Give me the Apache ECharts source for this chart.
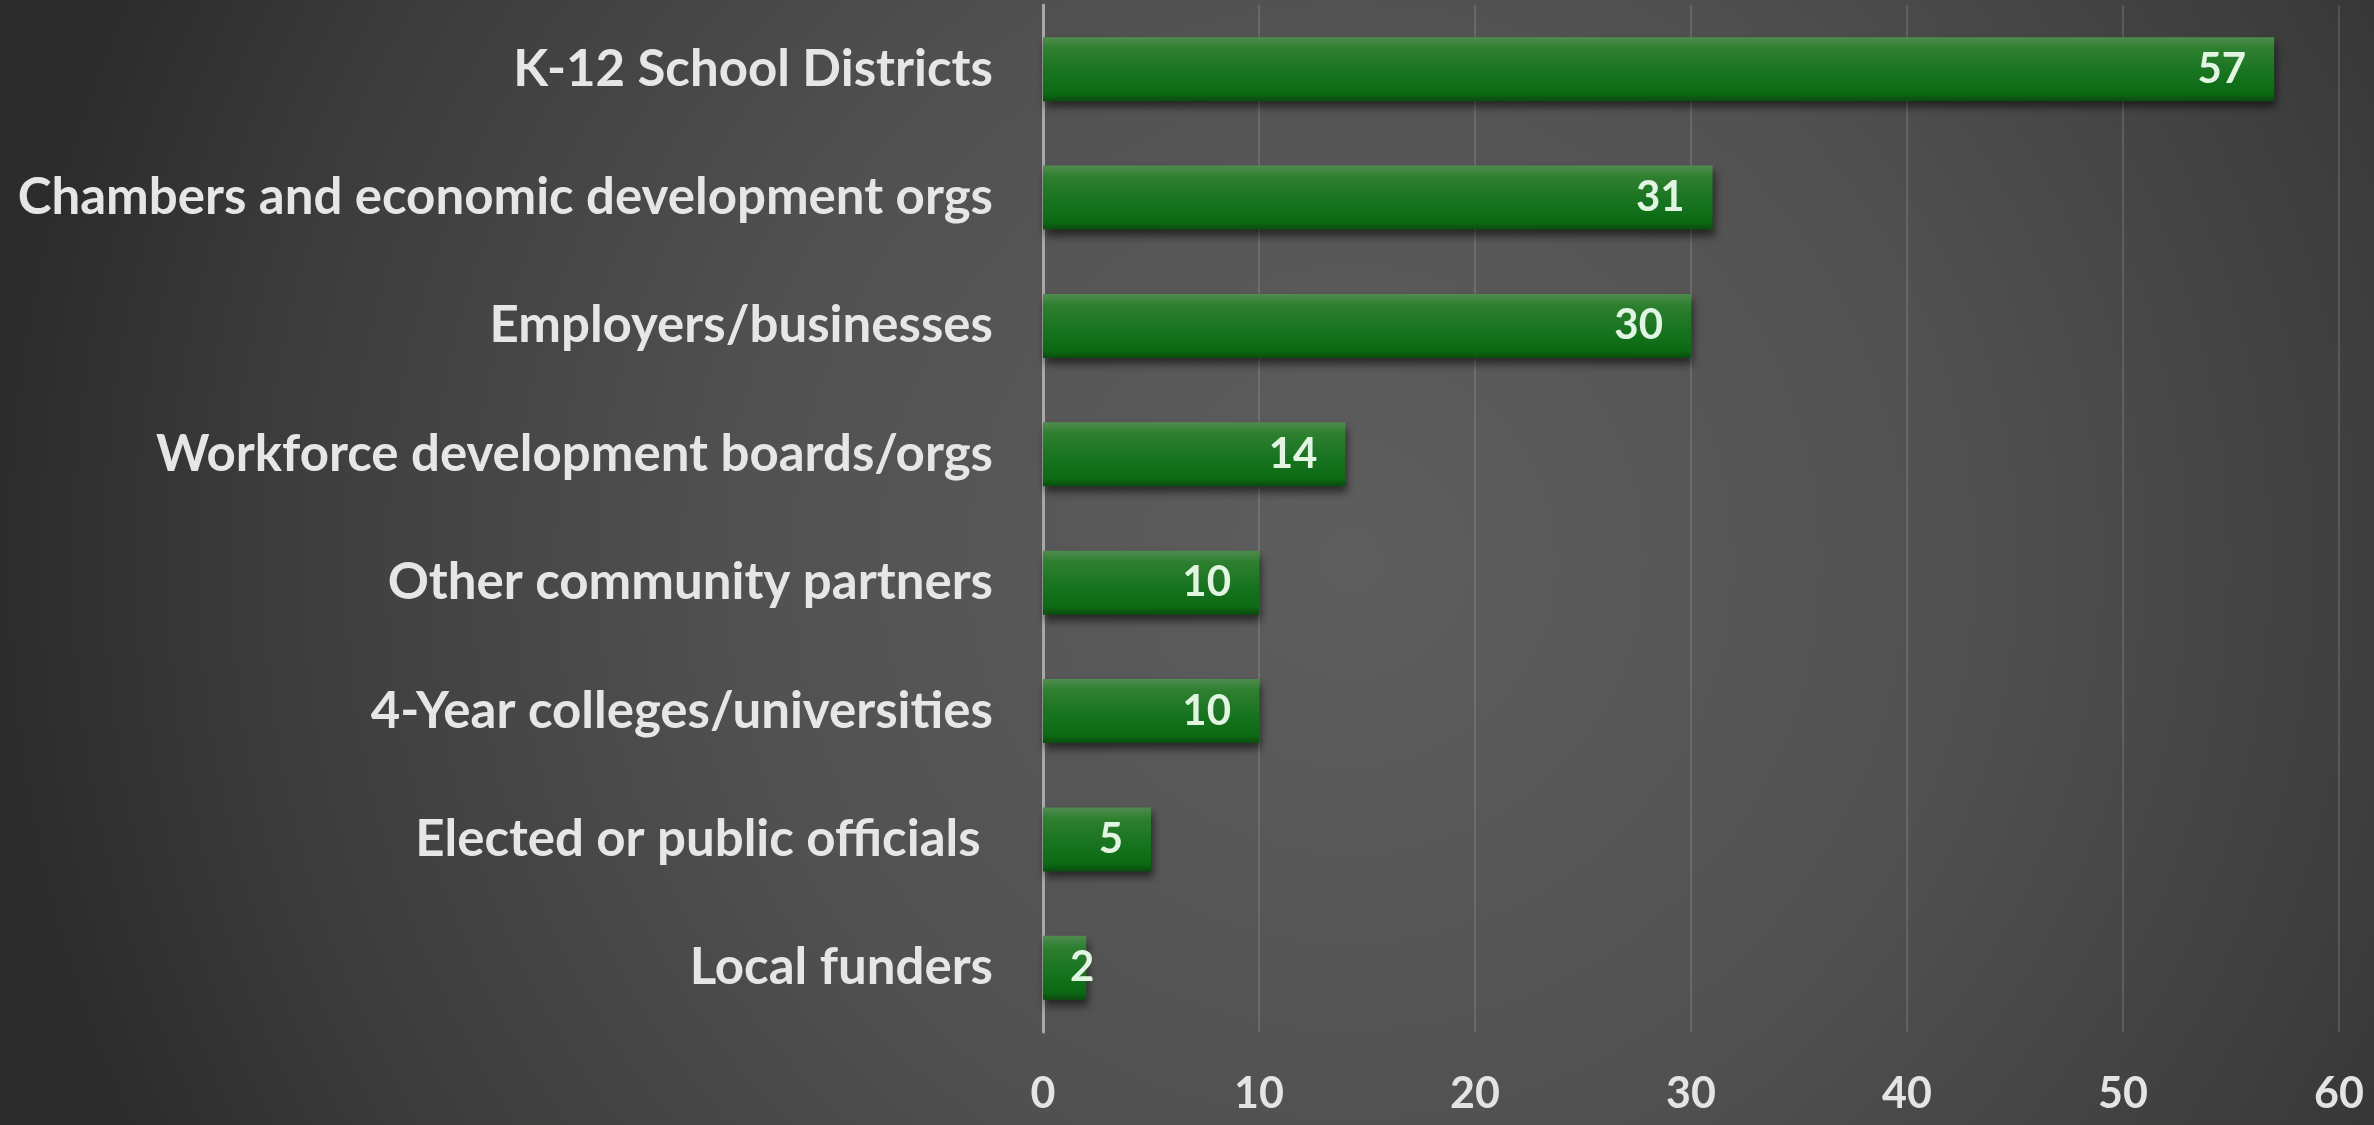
<!DOCTYPE html>
<html>
<head>
<meta charset="utf-8">
<script src="https://cdn.jsdelivr.net/npm/echarts@6/dist/echarts.min.js"></script>
<style>
html,body{margin:0;padding:0;width:2374px;height:1125px;overflow:hidden;background:#333;}
#c{width:2374px;height:1125px;}
</style>
</head>
<body>
<div id="c"></div>
<script>
const categories = [
  "K-12 School Districts",
  "Chambers and economic development orgs",
  "Employers/businesses",
  "Workforce development boards/orgs",
  "Other community partners",
  "4-Year colleges/universities",
  "Elected or public officials ",
  "Local funders"
];
const values = [57, 31, 30, 14, 10, 10, 5, 2];
const xTicks = { min: 0, max: 60, interval: 10 };

const chart = echarts.init(document.getElementById('c'));
const barGrad = new echarts.graphic.LinearGradient(0, 0, 0, 1, [
  { offset: 0, color: '#4f8c4f' },
  { offset: 0.18, color: '#2e7f30' },
  { offset: 0.55, color: '#187420' },
  { offset: 0.88, color: '#0c6a13' },
  { offset: 1, color: '#0a4c0e' }
]);
const fontFam = 'Lato, "Open Sans", sans-serif';
chart.setOption({
  backgroundColor: {
    type: 'radial', x: 1350, y: 560, r: 1350, global: true,
    colorStops: [
      { offset: 0, color: '#5e5e5e' },
      { offset: 0.45, color: '#515151' },
      { offset: 0.8, color: '#3c3c3c' },
      { offset: 1, color: '#2c2c2c' }
    ]
  },
  animation: false,
  grid: { left: 1043, right: 35, top: 5, bottom: 93, containLabel: false },
  xAxis: {
    type: 'value', min: xTicks.min, max: xTicks.max, interval: xTicks.interval,
    axisLine: { show: false }, axisTick: { show: false },
    splitLine: { show: true, lineStyle: { color: 'rgba(255,255,255,0.13)', width: 2 } },
    axisLabel: { color: '#e4e4e4', fontSize: 43, fontWeight: 'bold', fontFamily: fontFam, margin: 41 }
  },
  yAxis: {
    type: 'category', data: categories, inverse: true,
    axisLine: { show: true, lineStyle: { color: '#a8a8a8', width: 3 } },
    axisTick: { show: false },
    axisLabel: { color: '#e6e6e6', fontSize: 51, fontWeight: 'bold', fontFamily: fontFam, margin: 50 }
  },
  series: [{
    type: 'bar',
    data: values.map(v => v < 3 ? { value: v, label: { position: 'insideLeft', distance: 27 } } : v),
    barWidth: 64,
    itemStyle: {
      color: barGrad,
      shadowColor: 'rgba(0,0,0,0.55)', shadowBlur: 8, shadowOffsetY: 6, shadowOffsetX: 2
    },
    label: {
      show: true, position: 'insideRight', distance: 28,
      color: '#e2f5e2', fontSize: 42, fontWeight: 'bold', fontFamily: fontFam
    }
  }]
});
</script>
</body>
</html>
